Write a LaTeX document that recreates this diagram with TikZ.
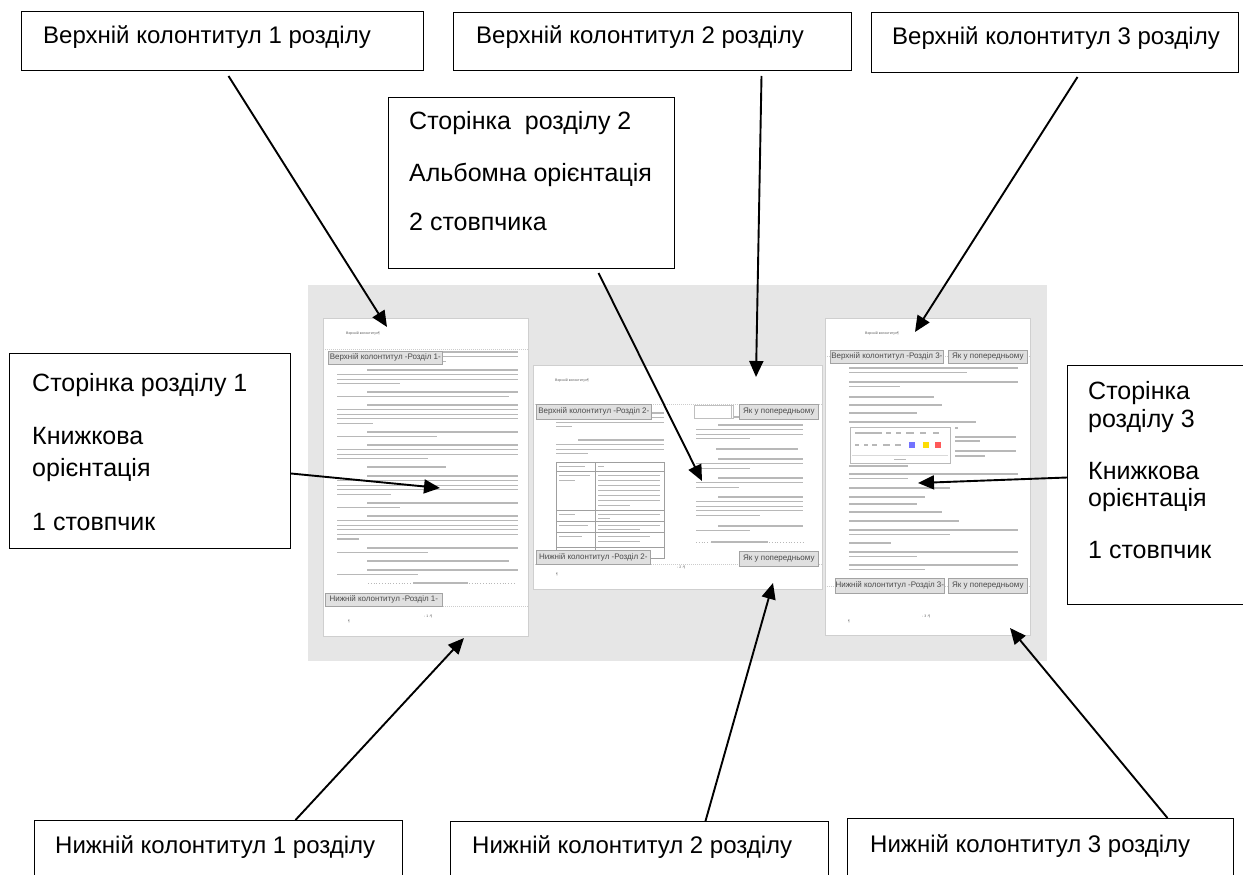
\documentclass[tikz,border=0pt]{standalone}
\usepackage{fontspec}
\setmainfont{Liberation Sans}
\usetikzlibrary{arrows.meta}
\definecolor{bggray}{HTML}{E6E6E6}
\definecolor{pageedge}{HTML}{CFCFCF}
\definecolor{greek}{HTML}{B8B8B8}
\definecolor{tagfill}{HTML}{E0E0E0}
\definecolor{tagedge}{HTML}{A3A3A3}
\definecolor{tagtext}{HTML}{4A4A4A}
\newcommand\gpara[6]{%
  \foreach \k in {1,...,#4}{%
    \pgfmathsetmacro\gy{#3+(\k-1)*4.6}%
    \pgfmathsetmacro\gxs{\k==1 ? #1+#6 : #1}%
    \pgfmathsetmacro\gxe{\k==#4 ? #1+(#2-#1)*#5 : #2}%
    \draw[greektext] (\gxs,\gy) -- (\gxe,\gy);%
  }%
}
\begin{document}
\begin{tikzpicture}[x=1pt,y=-1pt,
  callout/.style={draw=black, line width=1pt, fill=white, inner sep=0pt, anchor=north west},
  lbl/.style={inner sep=0pt, anchor=base west, font=\fontsize{24}{24}\selectfont},
  mlbl/.style={inner sep=0pt, anchor=base west, font=\fontsize{25}{25}\selectfont},
  conn/.style={draw=black, line width=1.9pt, -{Triangle[length=16pt,width=14pt]}},
  pagebox/.style={draw=pageedge, fill=white, line width=0.6pt, inner sep=0pt, anchor=north west},
  tag/.style={draw=tagedge, fill=tagfill, line width=0.7pt, inner sep=0pt, anchor=north west, text=tagtext, font=\fontsize{8}{8}\selectfont},
  greektext/.style={draw=greek, line width=1.3pt},
  sepline/.style={draw=gray!40, line width=0.5pt, dash pattern=on 1pt off 1pt},
  tiny/.style={inner sep=0pt, anchor=base west, text=gray!70!black, font=\fontsize{3.5}{3.5}\selectfont},
  tbl/.style={draw=gray!75, line width=0.6pt}
]
\useasboundingbox (0,0) rectangle (1243,875);
\fill[white] (0,0) rectangle (1243,875);

% ---------- screenshot background ----------
\fill[bggray] (308,285) rectangle (1047,661);

% ---------- pages ----------
\node[pagebox, minimum width=205pt, minimum height=318pt] (pg1) at (323,318) {};
\node[pagebox, minimum width=289pt, minimum height=224pt] (pg2) at (533,365) {};
\node[pagebox, minimum width=205pt, minimum height=317pt] (pg3) at (825,318) {};

% page 1 content
\draw[sepline] (323,349) -- (528,349);
\draw[sepline] (323,606) -- (528,606);
\node[tiny] (p1head) at (346,334) {Верхній колонтитул¶};
\gpara{337}{518}{352}{3}{0.6}{0}
\gpara{337}{518}{370}{4}{0.35}{30}
\gpara{337}{518}{392}{2}{0.95}{30}
\gpara{337}{518}{405}{5}{0.2}{30}
\gpara{337}{518}{432}{2}{0.55}{30}
\gpara{337}{518}{445}{4}{0.5}{30}
\gpara{337}{518}{467}{1}{0.6}{30}
\gpara{337}{518}{476}{5}{0.3}{30}
\gpara{337}{518}{503}{2}{0.35}{30}
\gpara{337}{518}{516}{6}{0.12}{30}
\gpara{337}{518}{548}{2}{0.5}{30}
\gpara{337}{518}{561}{1}{0.95}{30}
\gpara{337}{518}{570}{2}{0.45}{30}
\draw[greek, line width=0.8pt, dotted] (368,583) -- (412,583);
\draw[greektext] (413,583) -- (468,583);
\draw[greek, line width=0.8pt, dotted] (469,583) -- (516,583);
\node[tag, minimum width=114pt, minimum height=13pt] (p1tagh) at (328,351) {Верхній колонтитул -Розділ 1-};
\node[tag, minimum width=117pt, minimum height=13pt] (p1tagf) at (325,593) {Нижній колонтитул -Розділ 1-};
\node[tiny] (p1num) at (424,617) {- 1 -¶};
\node[tiny] (p1pil) at (348,622) {¶};

% page 2 content
\draw[sepline] (533,404) -- (822,404);
\draw[sepline] (533,564) -- (822,564);
\node[tiny] (p2head) at (555,381) {Верхній колонтитул¶};
% left column
\gpara{556}{664}{413}{4}{0.15}{0}
\gpara{556}{664}{440}{4}{0.3}{22}
% table
\draw[tbl] (556,462) rectangle (664,558);
\draw[tbl] (595,462) -- (595,558);
\foreach \ty in {471,510,521,532,547} { \draw[tbl] (556,\ty) -- (664,\ty); }
\draw[greektext, line width=1pt] (559,466) -- (585,466);
\draw[greektext, line width=1pt] (598,466) -- (604,466);
\draw[greektext, line width=1pt] (559,475) -- (590,475);
\draw[greektext, line width=1pt] (559,480) -- (575,480);
\foreach \ty in {475,480,485,490,495,500} { \draw[greektext, line width=1pt] (598,\ty) -- (660,\ty); }
\draw[greektext, line width=1pt] (598,505) -- (630,505);
\draw[greektext, line width=1pt] (559,514) -- (575,514);
\draw[greektext, line width=1pt] (598,514) -- (660,514);
\draw[greektext, line width=1pt] (598,518) -- (610,518);
\draw[greektext, line width=1pt] (559,525) -- (588,525);
\draw[greektext, line width=1pt] (598,525) -- (660,525);
\draw[greektext, line width=1pt] (598,529) -- (640,529);
\draw[greektext, line width=1pt] (559,536) -- (582,536);
\draw[greektext, line width=1pt] (598,536) -- (650,536);
\draw[greektext, line width=1pt] (598,541) -- (640,541);
% right column
\draw[greektext] (716,417) -- (803,417);
\gpara{696}{803}{425}{4}{0.5}{22}
\draw[greektext] (716,449) -- (798,449);
\gpara{696}{803}{459}{3}{0.5}{22}
\gpara{696}{803}{478}{3}{0.4}{22}
\gpara{696}{803}{497}{5}{0.6}{22}
\gpara{696}{803}{526}{2}{0.5}{22}
\draw[greek, line width=0.8pt, dotted] (696,542) -- (710,542);
\draw[greektext] (711,542) -- (768,542);
\draw[greek, line width=0.8pt, dotted] (769,542) -- (803,542);
\node[draw=gray!50, fill=white, line width=0.5pt, minimum width=39pt, minimum height=13pt, inner sep=0pt, anchor=north west] (p2box) at (694,405) {};
\draw[gray!50, line width=0.5pt] (731,405) -- (731,418);
\node[tag, minimum width=115pt, minimum height=15pt] (p2tagh) at (536,404) {Верхній колонтитул -Розділ 2-};
\node[tag, minimum width=79pt, minimum height=15pt] (p2likeh) at (739,404) {Як у попередньому};
\node[tag, minimum width=114pt, minimum height=14pt] (p2tagf) at (536,550) {Нижній колонтитул -Розділ 2-};
\node[tag, minimum width=79pt, minimum height=15pt] (p2likef) at (739,551) {Як у попередньому};
\node[tiny] (p2num) at (677,568) {- 2 -¶};
\node[tiny] (p2pil) at (556,575) {¶};

% page 3 content
\draw[sepline] (825,356) -- (1030,356);
\draw[sepline] (825,586) -- (1030,586);
\node[tiny] (p3head) at (865,334) {Верхній колонтитул¶};
\gpara{849}{1018}{368}{2}{0.7}{0}
\gpara{849}{1018}{382}{2}{0.3}{0}
\gpara{849}{1018}{397}{1}{0.5}{0}
\gpara{849}{1018}{405}{1}{0.55}{0}
\gpara{849}{1018}{413}{1}{0.4}{0}
\gpara{849}{1018}{422}{1}{0.75}{0}
\draw[greektext] (955,428) -- (958,428);
\draw[greektext] (955,437) -- (1016,437);
\draw[greektext] (955,441) -- (980,441);
\draw[greektext] (955,451) -- (1016,451);
\draw[greektext] (955,456) -- (985,456);
\gpara{849}{1018}{466}{1}{0.35}{0}
\gpara{849}{1018}{474}{2}{0.35}{0}
\gpara{849}{1018}{488}{1}{0.6}{0}
\gpara{849}{1018}{497}{1}{0.45}{0}
\gpara{849}{1018}{504}{1}{0.4}{0}
\gpara{849}{1018}{512}{1}{0.55}{0}
\gpara{849}{1018}{521}{1}{0.65}{0}
\gpara{849}{1018}{530}{2}{0.6}{0}
\gpara{849}{1018}{543}{1}{0.25}{0}
\gpara{849}{1018}{552}{2}{0.4}{0}
\gpara{849}{1018}{565}{2}{0.45}{0}
% ribbon picture
\node[draw=gray!55, fill=white, line width=0.8pt, minimum width=100pt, minimum height=36pt, inner sep=0pt, anchor=north west] (rib) at (850,427) {};
\foreach \a/\b in {855/882,886/891,896/901,906/914,920/926,933/939} { \draw[greektext, line width=1.6pt] (\a,433) -- (\b,433); }
\foreach \a/\b in {855/859,864/868,872/877,883/890,895/901} { \draw[greektext, line width=1.6pt] (\a,445) -- (\b,445); }
\fill[blue!55] (909,442) rectangle (915,448);
\fill[yellow!80!orange] (923,442) rectangle (929,448);
\fill[red!65] (935,442) rectangle (941,448);
\draw[gray!30, line width=0.5pt] (852,455) -- (948,455);
\draw[greektext, line width=1pt] (894,459) -- (906,459);
\node[tag, minimum width=113pt, minimum height=13pt] (p3tagh) at (830,350) {Верхній колонтитул -Розділ 3-};
\node[tag, minimum width=79pt, minimum height=13pt] (p3likeh) at (948,350) {Як у попередньому};
\node[tag, minimum width=109pt, minimum height=15pt] (p3tagf) at (835,578) {Нижній колонтитул -Розділ 3-};
\node[tag, minimum width=79pt, minimum height=15pt] (p3likef) at (948,578) {Як у попередньому};
\node[tiny] (p3num) at (922,617) {- 3 -¶};
\node[tiny] (p3pil) at (848,622) {¶};

% ---------- callout boxes ----------
\node[callout, minimum width=402pt, minimum height=59pt] (h1) at (21,11) {};
\node[lbl] (h1t) at (43,44) {Верхній колонтитул 1 розділу};
\node[callout, minimum width=398pt, minimum height=58pt] (h2) at (453,12) {};
\node[lbl] (h2t) at (476,44) {Верхній колонтитул 2 розділу};
\node[callout, minimum width=367pt, minimum height=60pt] (h3) at (871,12) {};
\node[lbl] (h3t) at (892,45) {Верхній колонтитул 3 розділу};

\node[callout, minimum width=286pt, minimum height=171pt] (s2) at (388,97) {};
\node[mlbl] (s2a) at (409,129) {Сторінка\ \ розділу 2};
\node[mlbl] (s2b) at (409,181) {Альбомна орієнтація};
\node[mlbl] (s2c) at (409,230) {2 стовпчика};

\node[callout, minimum width=281pt, minimum height=195pt] (s1) at (9,353) {};
\node[mlbl] (s1a) at (32,391) {Сторінка розділу 1};
\node[mlbl] (s1b) at (32,444) {Книжкова};
\node[mlbl] (s1c) at (32,476) {орієнтація};
\node[mlbl] (s1d) at (32,530) {1 стовпчик};

\node[callout, minimum width=176pt, minimum height=239pt] (s3) at (1067,365) {};
\node[mlbl] (s3a) at (1088,399) {Сторінка};
\node[mlbl] (s3b) at (1088,427) {розділу 3};
\node[mlbl] (s3c) at (1088,479) {Книжкова};
\node[mlbl] (s3d) at (1088,506) {орієнтація};
\node[mlbl] (s3e) at (1088,558) {1 стовпчик};

\node[callout, minimum width=368pt, minimum height=70pt] (f1) at (34,820) {};
\node[lbl] (f1t) at (55,853) {Нижній колонтитул 1 розділу};
\node[callout, minimum width=378pt, minimum height=70pt] (f2) at (450,821) {};
\node[lbl] (f2t) at (472,853) {Нижній колонтитул 2 розділу};
\node[callout, minimum width=386pt, minimum height=72pt] (f3) at (847,818) {};
\node[lbl] (f3t) at (870,852) {Нижній колонтитул 3 розділу};

% ---------- arrow targets ----------
\coordinate (e1) at (387,327);
\coordinate (e2) at (756,377);
\coordinate (e3) at (915,332);
\coordinate (e4) at (702,481);
\coordinate (e5) at (440,488);
\coordinate (e6) at (918,483);
\coordinate (e7) at (464,638);
\coordinate (e8) at (773,583);
\coordinate (e9) at (1010,628);

% ---------- connectors ----------
\draw[conn] ([xshift=6pt,yshift=-5pt]h1.south) -- (e1);
\draw[conn] ([xshift=109pt,yshift=-5pt]h2.south) -- (e2);
\draw[conn] ([xshift=22.5pt,yshift=-4pt]h3.south) -- (e3);
\draw[conn] ([xshift=67pt,yshift=-4pt]s2.south) -- (e4);
\draw[conn] ([yshift=-22.5pt]s1.east) -- (e5);
\draw[conn] ([yshift=7.5pt]s3.west) -- (e6);
\draw[conn] ([xshift=77pt]f1.north) -- (e7);
\draw[conn] ([xshift=66pt]f2.north) -- (e8);
\draw[conn] ([xshift=127pt]f3.north) -- (e9);
\end{tikzpicture}
\end{document}
